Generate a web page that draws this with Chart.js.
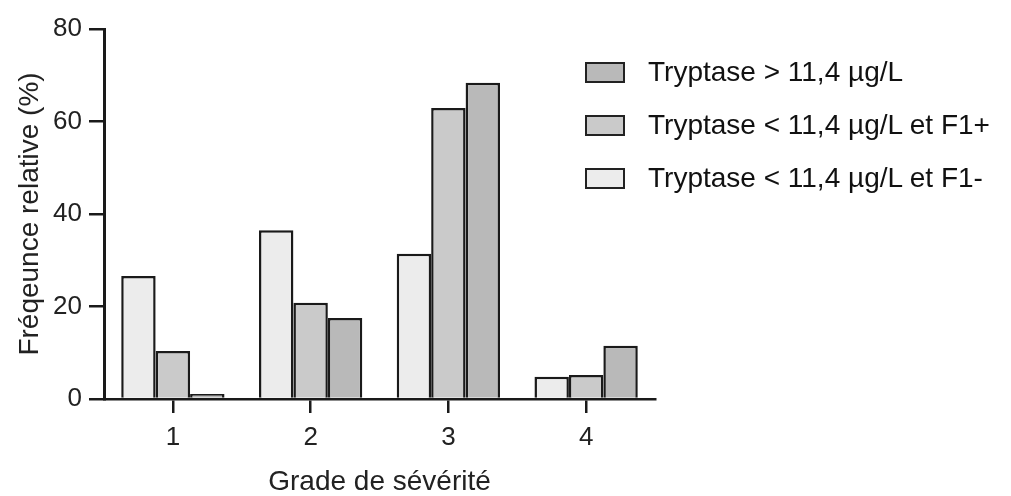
<!DOCTYPE html>
<html>
<head>
<meta charset="utf-8">
<script src="https://cdn.jsdelivr.net/npm/chart.js@4.4.1/dist/chart.umd.min.js"></script>
<style>
    body { margin: 0; background: #fff; }
    #wrap { position: relative; width: 1011px; height: 496px; }
    #legend { position: absolute; left: 585px; top: 0; font-family: "Liberation Sans", Arial, sans-serif; font-size: 28px; color: #111; }
    .item { position: absolute; left: 0; white-space: nowrap; height: 30px; line-height: 30px; }
    .box { position: absolute; left: 0; top: 4px; width: 36px; height: 17px; border: 2px solid #222; }
    .label { position: absolute; left: 63px; top: -1px; }
</style>
</head>
<body>
<div id="wrap">
    <canvas id="severityChart" width="1011" height="496"></canvas>
    <div id="legend"></div>
</div>
<script>
// Data
const grades = ["1", "2", "3", "4"];
const seriesNames = ["Tryptase < 11,4 µg/L et F1-", "Tryptase < 11,4 µg/L et F1+", "Tryptase > 11,4 µg/L"];
const f1Negative = [26.6, 36.5, 31.4, 4.8];
const f1Positive = [10.4, 20.8, 62.9, 5.2];
const tryptaseHigh = [1.1, 17.5, 68.4, 11.5];
const yTicks = [0, 20, 40, 60, 80];

const fills = ["#ececec", "#cacaca", "#b9b9b9"];
const values = [f1Negative, f1Positive, tryptaseHigh];
const font = "'Liberation Sans', Arial, sans-serif";

let ctx = document.getElementById("severityChart").getContext("2d");
new Chart(ctx, {
    type: "bar",
    data: {
        labels: grades,
        datasets: seriesNames.map((name, i) => ({
            label: name,
            data: values[i],
            backgroundColor: fills[i],
            borderColor: "#1a1a1a",
            borderWidth: 2.5,
            borderSkipped: "bottom",
            barPercentage: 1,
            categoryPercentage: 0.75
        }))
    },
    options: {
        responsive: false,
        animation: false,
        layout: { padding: { top: 29, right: 356, left: 0, bottom: 0 } },
        plugins: {
            legend: { display: false },
            tooltip: { enabled: false }
        },
        scales: {
            x: {
                afterFit: s => { s.height = 97; },
                grid: { offset: false, drawOnChartArea: false, color: "#1a1a1a", lineWidth: 2.5, tickLength: 14 },
                border: { color: "#1a1a1a", width: 2.5 },
                ticks: { color: "#222", padding: 9, font: { family: font, size: 26 } },
                title: {
                    display: true, text: "Grade de sévérité", color: "#222",
                    font: { family: font, size: 28, lineHeight: 1 }, padding: 0
                }
            },
            y: {
                min: 0,
                max: 80,
                afterFit: s => { s.width = 104; },
                afterBuildTicks: s => { s.ticks = yTicks.map(v => ({ value: v })); },
                grid: { drawOnChartArea: false, color: "#1a1a1a", lineWidth: 2.5, tickLength: 15 },
                border: { color: "#1a1a1a", width: 3 },
                ticks: { color: "#222", padding: 7, font: { family: font, size: 26 } },
                title: {
                    display: true, text: "Fréqeunce relative (%)", color: "#222",
                    font: { family: font, size: 28, lineHeight: 1 }, padding: { top: 16, bottom: 0 }
                }
            }
        }
    }
});

// Legend (reverse order, like the figure)
let legend = document.getElementById("legend");
let rowY = [58, 111, 164];
[2, 1, 0].forEach((idx, row) => {
    legend.innerHTML += `<div class="item" style="top:${rowY[row]}px"><div class="box" style="background:${fills[idx]}"></div><span class="label">${seriesNames[idx]}</span></div>`;
});
</script>
</body>
</html>
